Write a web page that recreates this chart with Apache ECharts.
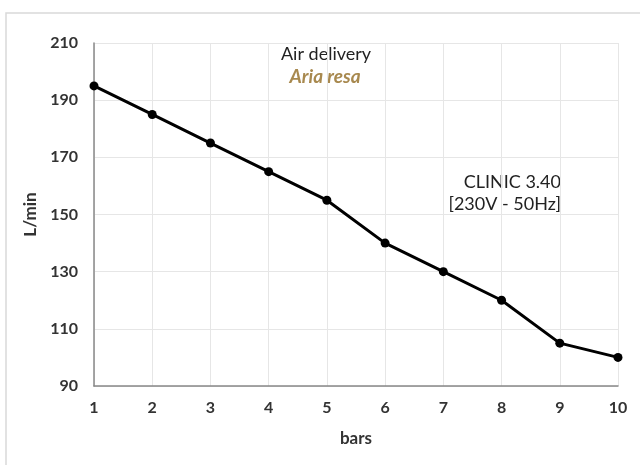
<!DOCTYPE html>
<html><head><meta charset="utf-8">
<script src="https://cdn.jsdelivr.net/npm/echarts@6/dist/echarts.min.js"></script>
<style>html,body{margin:0;padding:0;background:#fff}#c{width:640px;height:465px}</style>
</head><body><div id="c"></div>
<script>
const bars = [1,2,3,4,5,6,7,8,9,10];
const airDelivery = [195,185,175,165,155,140,130,120,105,100];
const yTicks = {min: 90, max: 210, interval: 20};
const titleMain = 'Air delivery';
const titleSub = 'Aria resa';
const noteLines = ['CLINIC 3.40', '[230V - 50Hz]'];

const chart = echarts.init(document.getElementById('c'));
chart.setOption({
  animation: false,
  backgroundColor: '#fff',
  textStyle: {fontFamily: 'Lato'},
  graphic: [
    {type: 'rect', shape: {x: 6, y: 13, width: 650, height: 470}, style: {fill: 'none', stroke: '#d9d9d9', lineWidth: 1.5}, z: -1},
    {type: 'text', x: 326, y: 54, style: {text: titleMain, fill: '#222', font: '18px Lato', align: 'center', verticalAlign: 'middle'}},
    {type: 'text', x: 325, y: 77, style: {text: titleSub, fill: '#a8894f', font: 'italic bold 19px Lato', align: 'center', verticalAlign: 'middle'}},
    {type: 'text', x: 561, y: 182, style: {text: noteLines[0], fill: '#222', font: '18px Lato', align: 'right', verticalAlign: 'middle'}},
    {type: 'text', x: 561, y: 204, style: {text: noteLines[1], fill: '#222', font: '18px Lato', align: 'right', verticalAlign: 'middle'}}
  ],
  grid: {left: 94, right: 22, top: 43, bottom: 79},
  xAxis: {
    type: 'value', min: 1, max: 10, interval: 1,
    name: 'bars', nameLocation: 'middle', nameGap: 44,
    nameTextStyle: {fontSize: 17, fontWeight: 'bold', color: '#333'},
    axisLine: {lineStyle: {color: '#888', width: 1.5}},
    axisTick: {show: false},
    axisLabel: {fontSize: 16, fontWeight: 'bold', color: '#333', margin: 14},
    splitLine: {show: true, lineStyle: {color: '#e6e6e6'}}
  },
  yAxis: {
    type: 'value', min: yTicks.min, max: yTicks.max, interval: yTicks.interval,
    name: 'L/min', nameLocation: 'middle', nameGap: 52,
    nameTextStyle: {fontSize: 17, fontWeight: 'bold', color: '#333'},
    axisLine: {show: true, lineStyle: {color: '#888', width: 1.5}},
    axisTick: {show: false},
    axisLabel: {fontSize: 16, fontWeight: 'bold', color: '#333', margin: 16},
    splitLine: {show: true, lineStyle: {color: '#e6e6e6'}}
  },
  series: [{
    type: 'line',
    data: bars.map((b, i) => [b, airDelivery[i]]),
    symbol: 'circle', symbolSize: 9,
    lineStyle: {color: '#000', width: 3},
    itemStyle: {color: '#000'}
  }]
});
</script></body></html>
